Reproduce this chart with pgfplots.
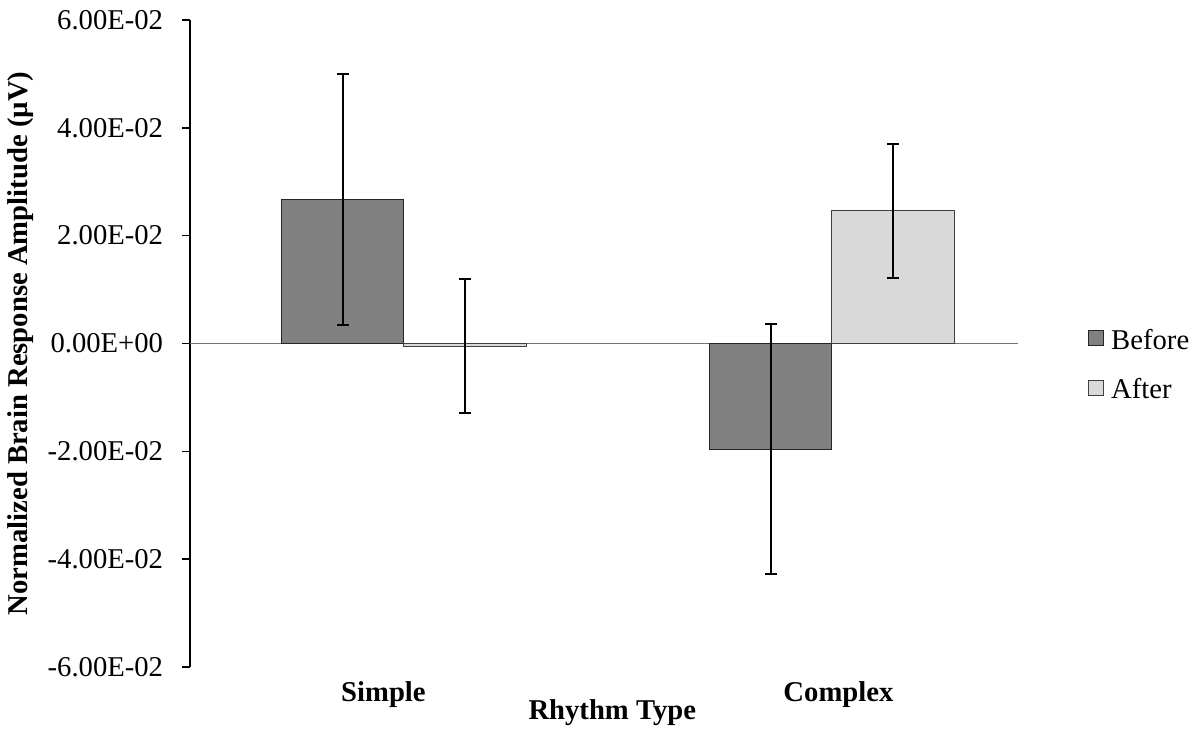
\documentclass[border=0pt]{standalone}
\usepackage{fontspec}
\setmainfont{Liberation Serif}
\usepackage{pgfplots}
\pgfplotsset{compat=1.18}
\definecolor{beforec}{RGB}{128,128,128}
\definecolor{afterc}{RGB}{217,217,217}
\begin{document}
\begin{tikzpicture}[font=\fontsize{21.5}{25}\selectfont]
\path[use as bounding box] (-142.5pt,-45.75pt) rectangle (756pt,500.25pt);
\begin{axis}[
  at={(0,0)}, anchor=south west,
  scale only axis, width=621pt, height=485.25pt,
  ybar=0pt, bar width=91.5pt,
  xmin=-0.5, xmax=1.4346,
  ymin=-0.06, ymax=0.06,
  axis lines=left,
  axis line style={-, line width=1.2pt, black},
  x axis line style={draw=none},
  xtick={-0.048,1.015},
  xticklabels={\textbf{Simple},\textbf{Complex}},
  xtick style={draw=none},
  xticklabel style={anchor=base, inner sep=0pt, yshift=-19.5pt},
  ytick={-0.06,-0.04,-0.02,0,0.02,0.04,0.06},
  yticklabels={-6.00E-02,-4.00E-02,-2.00E-02,0.00E+00,2.00E-02,4.00E-02,6.00E-02},
  scaled y ticks=false,
  tick align=outside,
  major tick length=6pt,
  ytick style={line width=1.2pt, black},
  yticklabel style={inner sep=0pt, xshift=-14pt},
  extra y ticks={0},
  extra y tick labels={},
  extra y tick style={major tick length=0pt, grid=major, major grid style={line width=0.9pt, black!55}},
  xlabel={\textbf{Rhythm Type}},
  xlabel style={at={(axis description cs:0.51,0)}, anchor=base, yshift=-39pt},
  ylabel={\textbf{Normalized Brain Response Amplitude (µV)}},
  ylabel style={at={(axis description cs:-0.2041,0.5)}, anchor=center},
  legend style={draw=none, fill=none, inner sep=0pt, at={(rel axis cs:1.0845,0.4635)}, anchor=west,
    row sep=17pt, nodes={inner sep=0pt, text height=15pt, text depth=5pt}},
  legend cell align=left,
  legend image code/.code={\draw[#1, line width=0.75pt] (0pt,-2.5pt) rectangle (11.25pt,8.75pt);
    \path (16.5pt,0pt);},
  error bars/error bar style={line width=1.5pt, black},
  error bars/error mark options={rotate=90, line width=1.5pt, black, mark size=4.5pt},
]
\addplot[fill=beforec, draw=black!85, line width=0.75pt,
  error bars/.cd, y dir=both, y explicit]
  coordinates {(0,0.0267) +- (0,0.0233) (1,-0.0196) +- (0,0.0232)};
\addplot[fill=afterc, draw=black!75, line width=0.75pt,
  error bars/.cd, y dir=both, y explicit]
  coordinates {(0,-0.0005) +- (0,0.0124) (1,0.0246) +- (0,0.0124)};
\legend{Before,After}
\end{axis}
\end{tikzpicture}
\end{document}
